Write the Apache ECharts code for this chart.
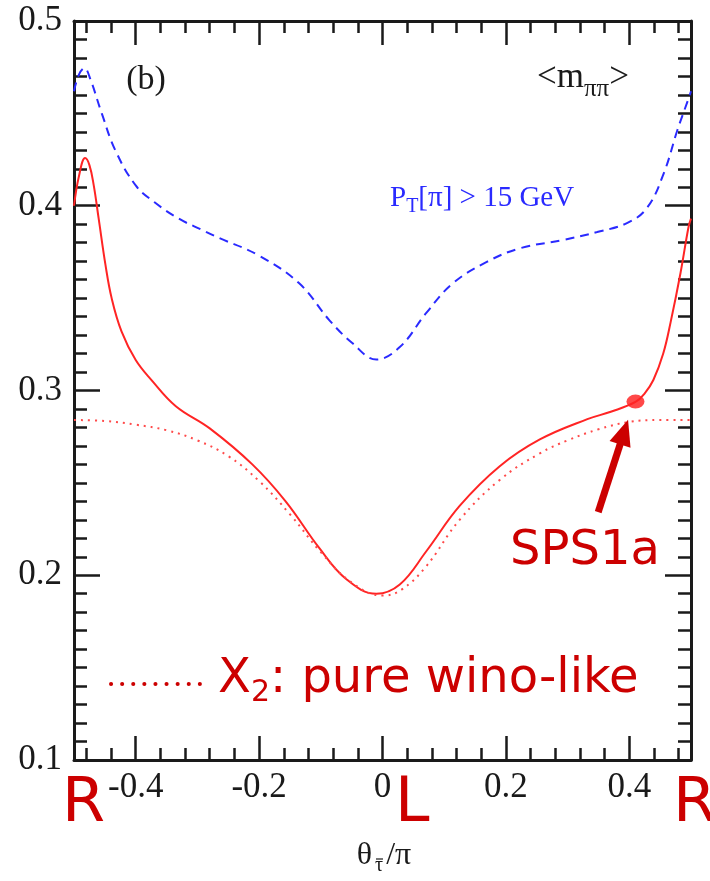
<!DOCTYPE html>
<html>
<head>
<meta charset="utf-8">
<script src="https://cdn.jsdelivr.net/npm/echarts@6/dist/echarts.min.js"></script>
<style>
  html, body { margin: 0; padding: 0; background: #fff; }
  #chart { width: 710px; height: 881px; }
</style>
</head>
<body>
<div id="chart"></div>
<script>
// tick positions
const xMajorTicks = [-0.4, -0.2, 0, 0.2, 0.4];
const xMinorTicks = [-0.48, -0.44, -0.36, -0.32, -0.28, -0.24, -0.16, -0.12, -0.08, -0.04,
  0.04, 0.08, 0.12, 0.16, 0.24, 0.28, 0.32, 0.36, 0.44, 0.48];

// P_T[pi] > 15 GeV (blue dashed)
const cutX = [-0.5, -0.492, -0.483, -0.474, -0.455, -0.433, -0.4, -0.37, -0.33, -0.293, -0.265,
  -0.2, -0.135, -0.086, -0.049, -0.01, 0.028, 0.071, 0.114, 0.169, 0.223, 0.293, 0.348, 0.397,
  0.429, 0.456, 0.478, 0.496, 0.5];
const cutY = [0.462, 0.471, 0.4745, 0.469, 0.450, 0.430, 0.411, 0.402, 0.393, 0.387, 0.3826,
  0.373, 0.358, 0.338, 0.3257, 0.3168, 0.3235, 0.342, 0.358, 0.3696, 0.377, 0.3815, 0.3858, 0.3907,
  0.399, 0.4177, 0.441, 0.458, 0.462];

// full <m_pipi> (red solid)
const fullX = [-0.5, -0.492, -0.482, -0.475, -0.468, -0.46, -0.449, -0.439, -0.423, -0.4, -0.374,
  -0.335, -0.28, -0.211, -0.157, -0.102, -0.059, -0.01, 0.028, 0.071, 0.125, 0.19, 0.255,
  0.332, 0.37, 0.41, 0.425, 0.439, 0.455, 0.467, 0.483, 0.496, 0.5];
const fullY = [0.400, 0.416, 0.4258, 0.422, 0.411, 0.393, 0.368, 0.350, 0.332, 0.3165, 0.3055,
  0.2915, 0.2795, 0.2600, 0.240, 0.2145, 0.1980, 0.190, 0.1950, 0.2130, 0.2375, 0.2590, 0.2735,
  0.2845, 0.2885, 0.2938, 0.2985, 0.3057, 0.320, 0.337, 0.3636, 0.3885, 0.393];

// X2 pure wino-like (red dotted)
const winoX = [-0.5, -0.45, -0.4, -0.35, -0.3, -0.25, -0.2, -0.15, -0.1, -0.05, 0.0, 0.03, 0.07,
  0.125, 0.19, 0.255, 0.3, 0.35, 0.4, 0.45, 0.5];
const winoY = [0.284, 0.2835, 0.2815, 0.2785, 0.2730, 0.2645, 0.251, 0.233, 0.2125, 0.196, 0.189, 0.192,
  0.2045, 0.23, 0.2516, 0.266, 0.273, 0.279, 0.283, 0.284, 0.284];

// SPS1a point and arrow
const sps1a = [0.41, 0.294];
const arrowFrom = [0.3496, 0.2342];
const arrowTo = [0.3915, 0.2775];

const zip = (xs, ys) => xs.map((x, i) => [x, ys[i]]);

const serif = 'Liberation Serif';
const sans = 'DejaVu Sans';
const ink = '#1a1a1a';
const annot = '#cc0000';

function xAxisPair(position) {
  return [
    {
      type: 'value', position, min: -0.5, max: 0.5,
      axisLine: { show: true, onZero: false, lineStyle: { color: ink, width: 3 } },
      axisTick: { show: true, inside: true, length: 24, customValues: xMajorTicks, lineStyle: { color: ink, width: 2.5 } },
      axisLabel: position === 'bottom'
        ? { show: true, customValues: xMajorTicks, margin: 10, color: ink, fontFamily: serif, fontSize: 35,
            formatter: v => (Math.abs(v) < 1e-9 ? '0' : String(+v.toFixed(1))) }
        : { show: false },
      splitLine: { show: false },
    },
    {
      type: 'value', position, min: -0.5, max: 0.5,
      axisLine: { show: false, onZero: false },
      axisTick: { show: true, inside: true, length: 12, customValues: xMinorTicks, lineStyle: { color: ink, width: 2.5 } },
      axisLabel: { show: false },
      splitLine: { show: false },
    },
  ];
}

function yAxis(position) {
  return {
    type: 'value', position, min: 0.1, max: 0.5, interval: 0.1,
    axisLine: { show: true, onZero: false, lineStyle: { color: ink, width: 3 } },
    axisTick: { show: true, inside: true, length: 26, lineStyle: { color: ink, width: 2.5 } },
    minorTick: { show: true, splitNumber: 10, length: 13, lineStyle: { color: ink, width: 2.5 } },
    axisLabel: position === 'left'
      ? { show: true, margin: 12, color: ink, fontFamily: serif, fontSize: 35, formatter: v => v.toFixed(1) }
      : { show: false },
    splitLine: { show: false },
  };
}

const chart = echarts.init(document.getElementById('chart'), null, { renderer: 'canvas' });

chart.setOption({
  animation: false,
  backgroundColor: '#fff',
  grid: { left: 74, right: 19, top: 21, bottom: 121, containLabel: false, outerBoundsMode: 'none' },
  xAxis: [...xAxisPair('bottom'), ...xAxisPair('top')],
  yAxis: [yAxis('left'), yAxis('right')],
  series: [
    {
      name: 'cut', type: 'line', data: zip(cutX, cutY), smooth: 0.4, showSymbol: false,
      lineStyle: { color: '#2a2aff', width: 2, type: [9, 6] },
    },
    {
      name: 'full', type: 'line', data: zip(fullX, fullY), smooth: 0.4, showSymbol: false,
      lineStyle: { color: '#ff2424', width: 2 },
    },
    {
      name: 'wino', type: 'line', data: zip(winoX, winoY), smooth: 0.4, showSymbol: false,
      lineStyle: { color: '#ff4a4a', width: 2, type: [2, 5] },
    },
    {
      name: 'SPS1a', type: 'scatter', data: [sps1a], symbol: 'circle', symbolSize: [18, 14],
      itemStyle: { color: '#ff1a1a' },
      markLine: {
        silent: true, symbol: ['none', 'triangle'], symbolSize: [22, 26],
        lineStyle: { color: annot, width: 7, type: 'solid' },
        label: { show: false },
        data: [[{ coord: arrowFrom }, { coord: arrowTo }]],
      },
    },
  ],
  graphic: [
    { type: 'text', style: { x: 146, y: 80, text: '(b)', font: `34px "${serif}"`, fill: ink, align: 'center', verticalAlign: 'middle' } },
    {
      type: 'text',
      style: {
        x: 583, y: 78, align: 'center', verticalAlign: 'middle', fill: ink,
        text: '{a|<m}{s|ππ}{a|>}',
        rich: {
          a: { fontFamily: serif, fontSize: 35, fill: ink },
          s: { fontFamily: serif, fontSize: 25, fill: ink, padding: [22, 0, 0, 0] },
        },
      },
    },
    {
      type: 'text',
      style: {
        x: 390, y: 198, align: 'left', verticalAlign: 'middle', fill: '#2a2aff',
        text: '{a|P}{s|T}{a|[π] > 15 GeV}',
        rich: {
          a: { fontFamily: serif, fontSize: 29, fill: '#2a2aff' },
          s: { fontFamily: serif, fontSize: 20, fill: '#2a2aff', padding: [18, 0, 0, 0] },
        },
      },
    },
    { type: 'text', style: { x: 510, y: 552, text: 'SPS1a', font: `48px "${sans}"`, fill: annot, align: 'left', verticalAlign: 'middle' } },
    {
      type: 'line', shape: { x1: 111, y1: 684, x2: 200, y2: 684 },
      style: { stroke: annot, lineWidth: 4, lineCap: 'round', lineDash: [0.1, 11] },
    },
    {
      type: 'text',
      style: {
        x: 218, y: 680, align: 'left', verticalAlign: 'middle', fill: annot,
        text: '{a|X}{s|2}{a|: pure wino-like}',
        rich: {
          a: { fontFamily: sans, fontSize: 48, fill: annot },
          s: { fontFamily: sans, fontSize: 30, fill: annot, padding: [26, 0, 0, 0] },
        },
      },
    },
    { type: 'text', style: { x: 62, y: 805, text: 'R', font: `62px "${sans}"`, fill: annot, align: 'left', verticalAlign: 'middle' } },
    { type: 'text', style: { x: 395, y: 805, text: 'L', font: `62px "${sans}"`, fill: annot, align: 'left', verticalAlign: 'middle' } },
    { type: 'text', style: { x: 673, y: 805, text: 'R', font: `62px "${sans}"`, fill: annot, align: 'left', verticalAlign: 'middle' } },
    {
      type: 'text',
      style: {
        x: 384, y: 856, align: 'center', verticalAlign: 'middle', fill: ink,
        text: '{a|θ}{s|τ}{a|/π}',
        rich: {
          a: { fontFamily: serif, fontSize: 32, fill: ink },
          s: { fontFamily: serif, fontSize: 20, fill: ink, padding: [20, 3, 0, 3] },
        },
      },
    },
    // bar over the subscript tau
    { type: 'line', shape: { x1: 376, y1: 859, x2: 383, y2: 859 }, style: { stroke: ink, lineWidth: 1.2 } },
  ],
});
</script>
</body>
</html>
